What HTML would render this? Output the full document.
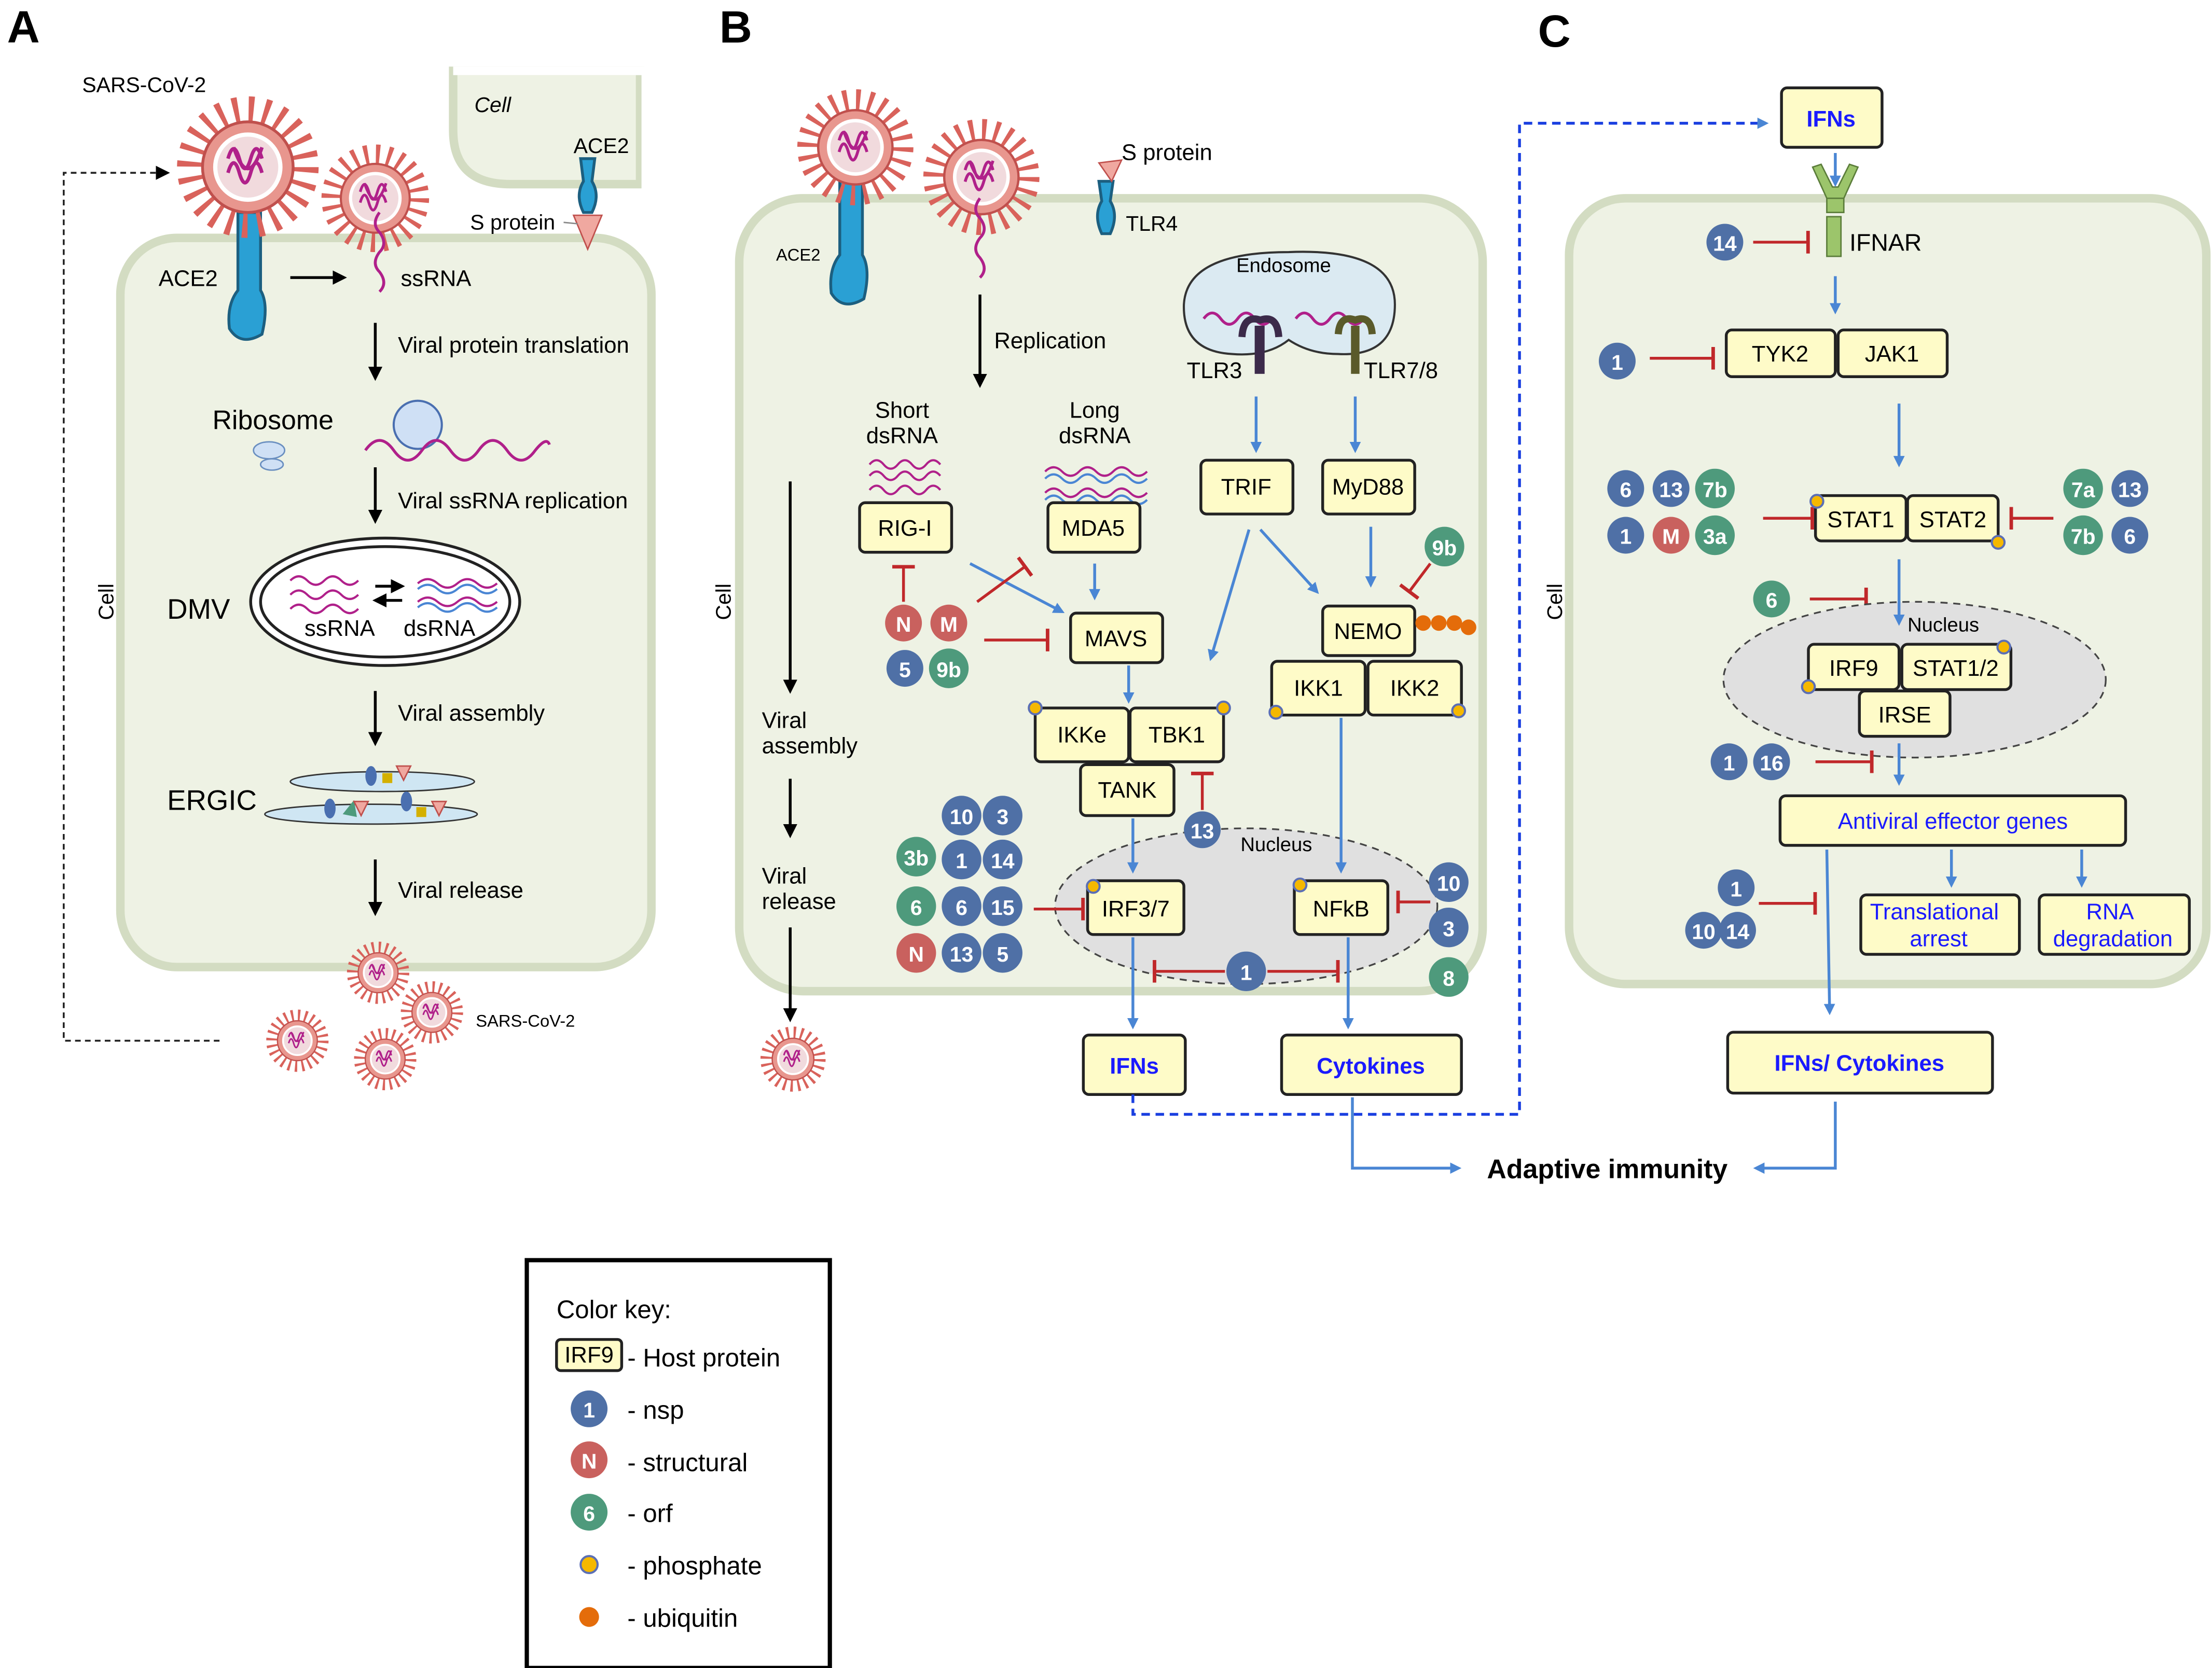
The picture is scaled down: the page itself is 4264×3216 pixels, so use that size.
<!DOCTYPE html>
<html><head><meta charset="utf-8"><style>html,body{margin:0;padding:0;background:#fff}svg{display:block}</style></head><body>
<svg xmlns="http://www.w3.org/2000/svg" width="4264" height="3216" viewBox="0 0 1562 1178" font-family="Liberation Sans, sans-serif">
<defs>
<symbol id="virus" viewBox="-50 -50 100 100" overflow="visible">
<circle r="40" fill="none" stroke="#d9625b" stroke-width="20" stroke-dasharray="3.5 7"/>
<circle r="32" fill="#e8968e" stroke="#c0504d" stroke-width="2"/>
<circle r="23" fill="#f1dadd" stroke="#fff" stroke-width="3"/>
<path d="M-14,-6 q4,-14 8,0 q4,14 8,0 q4,-14 8,0 M-14,4 q4,-14 8,0 q4,14 8,0 q4,-14 8,0 M-10,-14 q10,30 20,0" fill="none" stroke="#b0208a" stroke-width="2.5"/>
</symbol>
<marker id="ab" markerWidth="8" markerHeight="8" refX="6" refY="4" orient="auto" markerUnits="userSpaceOnUse"><path d="M0,0 L8,4 L0,8z" fill="#4a86d4"/></marker>
<marker id="ak" markerWidth="10" markerHeight="10" refX="8" refY="5" orient="auto" markerUnits="userSpaceOnUse"><path d="M0,0 L10,5 L0,10z" fill="#000"/></marker>
<marker id="tb" markerWidth="4" markerHeight="16" refX="2" refY="8" orient="auto" markerUnits="userSpaceOnUse"><rect x="0.5" y="0" width="2.5" height="16" fill="#c0282a"/></marker>
</defs>
<style>
.cell{fill:#eef2e4;stroke:#d3dcc2;stroke-width:6}
.hp{fill:#fefbc8;stroke:#222;stroke-width:2}
.ht{font-size:16px;text-anchor:middle;dominant-baseline:central}
.t{font-size:16px}
.b{fill:#4f70a6}.r{fill:#c9615e}.g{fill:#4e9a7c}
.ct{fill:#fff;font-weight:bold;font-size:15px;text-anchor:middle;dominant-baseline:central}
.ba{stroke:#4a86d4;stroke-width:2;fill:none;marker-end:url(#ab)}
.ka{stroke:#000;stroke-width:2;fill:none;marker-end:url(#ak)}
.inh{stroke:#c0282a;stroke-width:2;fill:none;marker-end:url(#tb)}
.ph{fill:#f5b800;stroke:#5b6fb5;stroke-width:1.5}
.ace{fill:#2aa0d4;stroke:#1c5f80;stroke-width:2}
</style>

<!-- Panel A -->
<text x="5" y="30" font-size="32" font-weight="bold">A</text>
<path d="M320,50 L320,92 Q320,130 360,130 L452,130 L452,50z" class="cell"/>
<rect x="320" y="47" width="140" height="6" fill="#fff"/>
<rect x="453" y="47" width="10" height="90" fill="#fff"/>
<text x="335" y="79" font-size="15" font-style="italic">Cell</text>
<rect x="85" y="168" width="375" height="515" rx="40" class="cell"/>
<text transform="translate(80,425) rotate(-90)" font-size="15" text-anchor="middle">Cell</text>
<text x="58" y="65" font-size="15">SARS-CoV-2</text>
<path d="M168,150 L168,205 Q160,215 162,232 Q170,245 185,236 Q190,215 184,205 L184,150z" class="ace"/>
<use href="#virus" x="125" y="68" width="100" height="100"/>
<use href="#virus" x="227" y="102" width="76" height="76"/>
<path d="M268,150 q-6,8 0,14 q6,8 0,14 q-6,8 0,14 q6,8 0,14" fill="none" stroke="#b0208a" stroke-width="2"/>
<path d="M410,112 L420,112 L418,128 Q424,138 418,150 L412,150 Q406,138 412,128z" class="ace"/>
<path d="M405,152 L425,152 L415,176z" fill="#f0a8a0" stroke="#c0504d"/>
<text x="332" y="162" font-size="15">S protein</text>
<line x1="398" y1="157" x2="408" y2="158" stroke="#888"/>
<text x="405" y="108" font-size="15">ACE2</text>
<text x="112" y="202" font-size="16">ACE2</text>
<line x1="205" y1="196" x2="243" y2="196" class="ka"/>
<text x="283" y="202" class="t">ssRNA</text>
<line x1="265" y1="228" x2="265" y2="267" class="ka"/>
<text x="281" y="249" class="t">Viral protein translation</text>
<text x="150" y="303" font-size="19">Ribosome</text>
<ellipse cx="190" cy="318" rx="11" ry="6" fill="#cfe0f5" stroke="#6a8fc0"/>
<ellipse cx="192" cy="328" rx="8" ry="4" fill="#cfe0f5" stroke="#6a8fc0"/>
<circle cx="295" cy="300" r="17" fill="#cfe0f5" stroke="#4a6fb0" stroke-width="1.5"/>
<path d="M258,318 q10,-14 20,0 q10,14 20,0 q10,-14 20,0 q10,14 20,0 q10,-14 20,0 q10,14 20,0 q8,-10 10,-4" fill="none" stroke="#b0208a" stroke-width="2"/>
<line x1="265" y1="330" x2="265" y2="368" class="ka"/>
<text x="281" y="359" class="t">Viral ssRNA replication</text>
<text x="118" y="437" font-size="20">DMV</text>
<ellipse cx="272" cy="425" rx="95" ry="45" fill="#fff" stroke="#222" stroke-width="2"/>
<ellipse cx="272" cy="425" rx="88" ry="39" fill="none" stroke="#222" stroke-width="2"/>
<path d="M205,410 q6,-6 12,0 q6,6 12,0 q6,-6 12,0 q6,6 12,0 M205,420 q6,-6 12,0 q6,6 12,0 q6,-6 12,0 q6,6 12,0 M205,430 q6,-6 12,0 q6,6 12,0 q6,-6 12,0 q6,6 12,0" fill="none" stroke="#b0208a" stroke-width="1.5"/>
<path d="M295,412 q7,-6 14,0 q7,6 14,0 q7,-6 14,0 q7,6 14,0 M295,425 q7,-6 14,0 q7,6 14,0 q7,-6 14,0 q7,6 14,0" fill="none" stroke="#b0208a" stroke-width="1.5"/>
<path d="M295,416 q7,-6 14,0 q7,6 14,0 q7,-6 14,0 q7,6 14,0 M295,429 q7,-6 14,0 q7,6 14,0 q7,-6 14,0 q7,6 14,0" fill="none" stroke="#4a86d4" stroke-width="1.5"/>
<line x1="265" y1="414" x2="284" y2="414" class="ka"/>
<line x1="284" y1="424" x2="265" y2="424" class="ka"/>
<text x="215" y="449" class="t">ssRNA</text><text x="285" y="449" class="t">dsRNA</text>
<line x1="265" y1="488" x2="265" y2="525" class="ka"/>
<text x="281" y="509" class="t">Viral assembly</text>
<text x="118" y="572" font-size="20">ERGIC</text>
<ellipse cx="270" cy="552" rx="65" ry="7" fill="#cfe6f3" stroke="#333"/>
<ellipse cx="262" cy="575" rx="75" ry="7" fill="#cfe6f3" stroke="#333"/>
<ellipse cx="262" cy="548" rx="4" ry="7" fill="#4a6fb0"/><rect x="270" y="546" width="7" height="7" fill="#d4b000"/><path d="M280,541 l10,0 l-5,10z" fill="#f0a8a0" stroke="#c0504d"/>
<ellipse cx="233" cy="571" rx="4" ry="7" fill="#4a6fb0"/><path d="M242,575 l8,-10 l2,12z" fill="#4e9a7c"/><path d="M250,566 l10,0 l-5,10z" fill="#f0a8a0" stroke="#c0504d"/>
<ellipse cx="287" cy="566" rx="4" ry="7" fill="#4a6fb0"/><rect x="294" y="570" width="7" height="7" fill="#d4b000"/><path d="M305,566 l10,0 l-5,10z" fill="#f0a8a0" stroke="#c0504d"/>
<line x1="265" y1="607" x2="265" y2="645" class="ka"/>
<text x="281" y="634" class="t">Viral release</text>
<use href="#virus" x="245" y="665" width="44" height="44"/>
<use href="#virus" x="283" y="693" width="44" height="44"/>
<use href="#virus" x="188" y="713" width="44" height="44"/>
<use href="#virus" x="250" y="726" width="44" height="44"/>
<text x="336" y="725" font-size="12">SARS-CoV-2</text>
<path d="M155,735 L45,735 L45,122 L118,122" fill="none" stroke="#222" stroke-width="1.3" stroke-dasharray="4 3" marker-end="url(#ak)"/>

<!-- Panel B -->
<text x="508" y="30" font-size="32" font-weight="bold">B</text>
<rect x="522" y="140" width="525" height="560" rx="45" class="cell"/>
<text transform="translate(516,425) rotate(-90)" font-size="15" text-anchor="middle">Cell</text>
<path d="M593,125 L593,180 Q585,190 587,207 Q595,220 610,211 Q615,190 609,180 L609,125z" class="ace"/>
<use href="#virus" x="563" y="63" width="82" height="82"/>
<use href="#virus" x="652" y="84" width="82" height="82"/>
<path d="M692,140 q-6,8 0,14 q6,8 0,14 q-6,8 0,14 q6,8 0,14" fill="none" stroke="#b0208a" stroke-width="2"/>
<text x="548" y="184" font-size="12">ACE2</text>
<path d="M776,128 L786,128 L784,142 Q790,152 784,165 L778,165 Q772,152 778,142z" class="ace"/>
<path d="M776,115 L792,113 L785,128z" fill="#f0a8a0" stroke="#c0504d"/>
<text x="792" y="113" class="t">S protein</text>
<text x="795" y="163" font-size="15">TLR4</text>
<line x1="692" y1="208" x2="692" y2="272" class="ka"/>
<text x="702" y="246" class="t">Replication</text>
<path d="M910,178 Q985,175 985,215 Q985,252 945,250 Q925,250 910,240 Q895,252 870,250 Q835,248 836,215 Q838,178 910,178z" fill="#dbeaf2" stroke="#333" stroke-width="1.5"/>
<text x="873" y="192" font-size="14">Endosome</text>
<path d="M850,225 q6,-8 12,0 q6,8 12,0 q6,-8 12,0 q6,8 12,0" fill="none" stroke="#b0208a" stroke-width="2"/>
<path d="M915,225 q6,-8 12,0 q6,8 12,0 q6,-8 12,0 q6,8 12,0" fill="none" stroke="#b0208a" stroke-width="2"/>
<path d="M877,238 Q878,222 890,226 Q902,222 903,238" fill="none" stroke="#3c2a4a" stroke-width="5"/><rect x="886" y="230" width="7" height="34" fill="#3c2a4a"/>
<path d="M945,236 Q946,222 957,226 Q968,222 969,236" fill="none" stroke="#5a5a2a" stroke-width="5"/><rect x="954" y="230" width="6" height="34" fill="#5a5a2a"/>
<text x="838" y="267" class="t">TLR3</text><text x="963" y="267" class="t">TLR7/8</text>
<text x="637" y="295" class="t" text-anchor="middle">Short</text><text x="637" y="313" class="t" text-anchor="middle">dsRNA</text>
<text x="773" y="295" class="t" text-anchor="middle">Long</text><text x="773" y="313" class="t" text-anchor="middle">dsRNA</text>
<path d="M614,328 q5,-6 10,0 q5,6 10,0 q5,-6 10,0 q5,6 10,0 q5,-6 10,0 M614,336 q5,-6 10,0 q5,6 10,0 q5,-6 10,0 q5,6 10,0 q5,-6 10,0 M614,346 q5,-6 10,0 q5,6 10,0 q5,-6 10,0 q5,6 10,0 q5,-6 10,0" fill="none" stroke="#b0208a" stroke-width="1.5"/>
<path d="M738,333 q6,-6 12,0 q6,6 12,0 q6,-6 12,0 q6,6 12,0 q6,-6 12,0 q6,6 12,0 M738,348 q6,-6 12,0 q6,6 12,0 q6,-6 12,0 q6,6 12,0 q6,-6 12,0 q6,6 12,0" fill="none" stroke="#b0208a" stroke-width="1.5"/>
<path d="M738,338 q6,-6 12,0 q6,6 12,0 q6,-6 12,0 q6,6 12,0 q6,-6 12,0 q6,6 12,0 M738,353 q6,-6 12,0 q6,6 12,0 q6,-6 12,0 q6,6 12,0 q6,-6 12,0 q6,6 12,0" fill="none" stroke="#4a86d4" stroke-width="1.5"/>
<rect x="607" y="355" width="65" height="35" rx="4" class="hp"/><text x="639" y="373" class="ht">RIG-I</text>
<rect x="740" y="355" width="65" height="35" rx="4" class="hp"/><text x="772" y="373" class="ht">MDA5</text>
<rect x="848" y="325" width="65" height="38" rx="4" class="hp"/><text x="880" y="344" class="ht">TRIF</text>
<rect x="934" y="325" width="65" height="38" rx="4" class="hp"/><text x="966" y="344" class="ht">MyD88</text>
<rect x="756" y="433" width="65" height="35" rx="4" class="hp"/><text x="788" y="451" class="ht">MAVS</text>
<rect x="934" y="428" width="65" height="35" rx="4" class="hp"/><text x="966" y="446" class="ht">NEMO</text>
<rect x="731" y="500" width="66" height="38" rx="4" class="hp"/><text x="764" y="519" class="ht">IKKe</text>
<rect x="798" y="500" width="66" height="38" rx="4" class="hp"/><text x="831" y="519" class="ht">TBK1</text>
<rect x="763" y="540" width="66" height="36" rx="4" class="hp"/><text x="796" y="558" class="ht">TANK</text>
<rect x="898" y="467" width="66" height="38" rx="4" class="hp"/><text x="931" y="486" class="ht">IKK1</text>
<rect x="966" y="467" width="66" height="38" rx="4" class="hp"/><text x="999" y="486" class="ht">IKK2</text>
<ellipse cx="880" cy="640" rx="135" ry="55" fill="#e0e0e0" stroke="#444" stroke-width="1.2" stroke-dasharray="5 4"/>
<text x="876" y="601" font-size="14">Nucleus</text>
<rect x="768" y="622" width="68" height="38" rx="4" class="hp"/><text x="802" y="642" class="ht">IRF3/7</text>
<rect x="914" y="622" width="66" height="38" rx="4" class="hp"/><text x="947" y="642" class="ht">NFkB</text>
<rect x="765" y="731" width="72" height="42" rx="4" class="hp"/><text x="801" y="753" class="ht" font-size="20" font-weight="bold" fill="#1a1aff">IFNs</text>
<rect x="905" y="731" width="127" height="42" rx="4" class="hp"/><text x="968" y="753" class="ht" font-size="20" font-weight="bold" fill="#1a1aff">Cytokines</text>
<!-- arrows B -->
<line x1="685" y1="398" x2="750" y2="432" class="ba"/>
<line x1="773" y1="398" x2="773" y2="422" class="ba"/>
<line x1="887" y1="280" x2="887" y2="318" class="ba"/>
<line x1="957" y1="280" x2="957" y2="318" class="ba"/>
<line x1="882" y1="374" x2="855" y2="465" class="ba"/>
<line x1="890" y1="374" x2="930" y2="418" class="ba"/>
<line x1="968" y1="372" x2="968" y2="413" class="ba"/>
<line x1="797" y1="470" x2="797" y2="495" class="ba"/>
<line x1="800" y1="578" x2="800" y2="615" class="ba"/>
<line x1="947" y1="507" x2="947" y2="615" class="ba"/>
<line x1="800" y1="662" x2="800" y2="725" class="ba"/>
<line x1="952" y1="662" x2="952" y2="725" class="ba"/>
<path d="M955,775 L955,825 L1030,825" class="ba"/>
<path d="M1296,778 L1296,825 L1240,825" class="ba"/>
<path d="M800,773 L800,787 L1073,787 L1073,87 L1247,87" fill="none" stroke="#1a3fe0" stroke-width="2" stroke-dasharray="6 4" marker-end="url(#ab)"/>
<text x="1050" y="832" font-size="19" font-weight="bold">Adaptive immunity</text>
<!-- inhibitors B -->
<line x1="638" y1="425" x2="638" y2="400" class="inh"/>
<line x1="690" y1="425" x2="724" y2="400" class="inh"/>
<line x1="695" y1="452" x2="740" y2="452" class="inh"/>
<line x1="849" y1="572" x2="849" y2="546" class="inh"/>
<line x1="1010" y1="398" x2="995" y2="418" class="inh"/>
<line x1="730" y1="642" x2="765" y2="642" class="inh"/>
<line x1="1010" y1="637" x2="987" y2="637" class="inh"/>
<line x1="865" y1="686" x2="815" y2="686" class="inh"/>
<line x1="895" y1="686" x2="945" y2="686" class="inh"/>
<!-- left viral steps B -->
<line x1="558" y1="340" x2="558" y2="488" class="ka"/>
<text x="538" y="514" class="t">Viral</text><text x="538" y="532" class="t">assembly</text>
<line x1="558" y1="550" x2="558" y2="590" class="ka"/>
<text x="538" y="624" class="t">Viral</text><text x="538" y="642" class="t">release</text>
<line x1="558" y1="655" x2="558" y2="720" class="ka"/>
<use href="#virus" x="537" y="725" width="46" height="46"/>
<!-- circles B -->
<circle cx="638" cy="440" r="13" class="r"/><text x="638" y="441" class="ct">N</text>
<circle cx="670" cy="440" r="13" class="r"/><text x="670" y="441" class="ct">M</text>
<circle cx="639" cy="472" r="13" class="b"/><text x="639" y="473" class="ct">5</text>
<circle cx="670" cy="472" r="14" class="g"/><text x="670" y="473" class="ct">9b</text>
<circle cx="1020" cy="386" r="14" class="g"/><text x="1020" y="387" class="ct">9b</text>
<circle cx="849" cy="586" r="13" class="b"/><text x="849" y="587" class="ct">13</text>
<circle cx="679" cy="576" r="14" class="b"/><text x="679" y="577" class="ct">10</text>
<circle cx="708" cy="576" r="14" class="b"/><text x="708" y="577" class="ct">3</text>
<circle cx="647" cy="605" r="14" class="g"/><text x="647" y="606" class="ct">3b</text>
<circle cx="679" cy="607" r="14" class="b"/><text x="679" y="608" class="ct">1</text>
<circle cx="708" cy="607" r="14" class="b"/><text x="708" y="608" class="ct">14</text>
<circle cx="647" cy="640" r="14" class="g"/><text x="647" y="641" class="ct">6</text>
<circle cx="679" cy="640" r="14" class="b"/><text x="679" y="641" class="ct">6</text>
<circle cx="708" cy="640" r="14" class="b"/><text x="708" y="641" class="ct">15</text>
<circle cx="647" cy="673" r="14" class="r"/><text x="647" y="674" class="ct">N</text>
<circle cx="679" cy="673" r="14" class="b"/><text x="679" y="674" class="ct">13</text>
<circle cx="708" cy="673" r="14" class="b"/><text x="708" y="674" class="ct">5</text>
<circle cx="1023" cy="623" r="14" class="b"/><text x="1023" y="624" class="ct">10</text>
<circle cx="1023" cy="655" r="14" class="b"/><text x="1023" y="656" class="ct">3</text>
<circle cx="1023" cy="690" r="14" class="g"/><text x="1023" y="691" class="ct">8</text>
<circle cx="880" cy="686" r="14" class="b"/><text x="880" y="687" class="ct">1</text>
<circle cx="1005" cy="440" r="5.5" fill="#e46c0a"/><circle cx="1016" cy="440" r="5.5" fill="#e46c0a"/><circle cx="1027" cy="440" r="5.5" fill="#e46c0a"/><circle cx="1037" cy="443" r="5.5" fill="#e46c0a"/>
<circle cx="731" cy="500" r="4.5" class="ph"/><circle cx="864" cy="500" r="4.5" class="ph"/><circle cx="901" cy="503" r="4.5" class="ph"/><circle cx="1030" cy="502" r="4.5" class="ph"/><circle cx="772" cy="626" r="4.5" class="ph"/><circle cx="918" cy="625" r="4.5" class="ph"/>

<!-- Panel C -->
<text x="1086" y="33" font-size="32" font-weight="bold">C</text>
<rect x="1108" y="140" width="450" height="555" rx="40" class="cell"/>
<text transform="translate(1103,425) rotate(-90)" font-size="15" text-anchor="middle">Cell</text>
<rect x="1258" y="62" width="71" height="42" rx="4" class="hp"/><text x="1293" y="84" class="ht" font-size="20" font-weight="bold" fill="#1a1aff">IFNs</text>
<path d="M1280,118 L1290,140 L1302,140 L1312,118 L1306,116 L1298,132 L1294,132 L1286,116z" fill="#9cc56b" stroke="#5b7d3a"/>
<rect x="1290" y="140" width="12" height="10" fill="#9cc56b" stroke="#5b7d3a"/>
<rect x="1290" y="153" width="10" height="28" fill="#9cc56b" stroke="#5b7d3a"/>
<line x1="1296" y1="108" x2="1296" y2="130" class="ba"/>
<text x="1306" y="177" font-size="17">IFNAR</text>
<circle cx="1218" cy="171" r="13" class="b"/><text x="1218" y="172" class="ct">14</text>
<line x1="1238" y1="171" x2="1277" y2="171" class="inh"/>
<line x1="1296" y1="195" x2="1296" y2="220" class="ba"/>
<rect x="1219" y="233" width="77" height="33" rx="4" class="hp"/><text x="1257" y="250" class="ht">TYK2</text>
<rect x="1298" y="233" width="77" height="33" rx="4" class="hp"/><text x="1336" y="250" class="ht">JAK1</text>
<circle cx="1142" cy="255" r="13" class="b"/><text x="1142" y="256" class="ct">1</text>
<line x1="1165" y1="253" x2="1210" y2="253" class="inh"/>
<line x1="1341" y1="285" x2="1341" y2="328" class="ba"/>
<rect x="1282" y="350" width="64" height="32" rx="4" class="hp"/><text x="1314" y="367" class="ht">STAT1</text>
<rect x="1347" y="350" width="64" height="32" rx="4" class="hp"/><text x="1379" y="367" class="ht">STAT2</text>
<circle cx="1148" cy="345" r="13" class="b"/><text x="1148" y="346" class="ct">6</text>
<circle cx="1180" cy="345" r="13" class="b"/><text x="1180" y="346" class="ct">13</text>
<circle cx="1211" cy="345" r="14" class="g"/><text x="1211" y="346" class="ct">7b</text>
<circle cx="1148" cy="378" r="13" class="b"/><text x="1148" y="379" class="ct">1</text>
<circle cx="1180" cy="378" r="13" class="r"/><text x="1180" y="379" class="ct">M</text>
<circle cx="1211" cy="378" r="14" class="g"/><text x="1211" y="379" class="ct">3a</text>
<line x1="1245" y1="366" x2="1280" y2="366" class="inh"/>
<circle cx="1471" cy="345" r="14" class="g"/><text x="1471" y="346" class="ct">7a</text>
<circle cx="1504" cy="345" r="13" class="b"/><text x="1504" y="346" class="ct">13</text>
<circle cx="1471" cy="378" r="14" class="g"/><text x="1471" y="379" class="ct">7b</text>
<circle cx="1504" cy="378" r="13" class="b"/><text x="1504" y="379" class="ct">6</text>
<line x1="1450" y1="366" x2="1420" y2="366" class="inh"/>
<circle cx="1251" cy="423" r="13" class="g"/><text x="1251" y="424" class="ct">6</text>
<line x1="1278" y1="423" x2="1318" y2="423" class="inh"/>
<ellipse cx="1352" cy="480" rx="135" ry="55" fill="#e0e0e0" stroke="#444" stroke-width="1.2" stroke-dasharray="5 4"/>
<line x1="1341" y1="395" x2="1341" y2="440" class="ba"/>
<text x="1347" y="446" font-size="14">Nucleus</text>
<rect x="1277" y="455" width="64" height="32" rx="4" class="hp"/><text x="1309" y="472" class="ht">IRF9</text>
<rect x="1343" y="455" width="77" height="32" rx="4" class="hp"/><text x="1381" y="472" class="ht">STAT1/2</text>
<rect x="1313" y="488" width="64" height="32" rx="4" class="hp"/><text x="1345" y="505" class="ht">IRSE</text>
<circle cx="1283" cy="354" r="4.5" class="ph"/><circle cx="1411" cy="383" r="4.5" class="ph"/><circle cx="1277" cy="485" r="4.5" class="ph"/><circle cx="1415" cy="457" r="4.5" class="ph"/>
<circle cx="1221" cy="538" r="13" class="b"/><text x="1221" y="539" class="ct">1</text>
<circle cx="1251" cy="538" r="13" class="b"/><text x="1251" y="539" class="ct">16</text>
<line x1="1282" y1="538" x2="1322" y2="538" class="inh"/>
<line x1="1341" y1="525" x2="1341" y2="553" class="ba"/>
<rect x="1257" y="562" width="244" height="35" rx="4" class="hp"/><text x="1379" y="580" class="ht" font-size="19" fill="#1a1aff">Antiviral effector genes</text>
<line x1="1378" y1="600" x2="1378" y2="625" class="ba"/>
<line x1="1470" y1="600" x2="1470" y2="625" class="ba"/>
<rect x="1314" y="632" width="112" height="42" rx="4" class="hp"/><text x="1366" y="644" class="ht" font-size="15" fill="#1a1aff">Translational</text><text x="1369" y="663" class="ht" font-size="15" fill="#1a1aff">arrest</text>
<rect x="1440" y="632" width="106" height="42" rx="4" class="hp"/><text x="1490" y="644" class="ht" font-size="15" fill="#1a1aff">RNA</text><text x="1492" y="663" class="ht" font-size="15" fill="#1a1aff">degradation</text>
<circle cx="1226" cy="627" r="13" class="b"/><text x="1226" y="628" class="ct">1</text>
<circle cx="1203" cy="657" r="13" class="b"/><text x="1203" y="658" class="ct">10</text>
<circle cx="1227" cy="657" r="13" class="b"/><text x="1227" y="658" class="ct">14</text>
<line x1="1242" y1="638" x2="1282" y2="638" class="inh"/>
<line x1="1290" y1="600" x2="1292" y2="715" class="ba"/>
<rect x="1220" y="729" width="187" height="43" rx="4" class="hp"/><text x="1313" y="751" class="ht" font-size="19" font-weight="bold" fill="#1a1aff">IFNs/ Cytokines</text>

<!-- Legend -->
<rect x="372" y="890" width="214" height="288" fill="#fff" stroke="#000" stroke-width="3"/>
<text x="393" y="931" font-size="18">Color key:</text>
<rect x="393" y="946" width="46" height="22" rx="3" class="hp" stroke-width="1.5"/><text x="416" y="957" class="ht" font-size="15">IRF9</text>
<text x="443" y="965" font-size="18">- Host protein</text>
<circle cx="416" cy="995" r="13" class="b"/><text x="416" y="996" class="ct">1</text><text x="443" y="1002" font-size="18">- nsp</text>
<circle cx="416" cy="1031" r="13" class="r"/><text x="416" y="1032" class="ct">N</text><text x="443" y="1039" font-size="18">- structural</text>
<circle cx="416" cy="1068" r="13" class="g"/><text x="416" y="1069" class="ct">6</text><text x="443" y="1075" font-size="18">- orf</text>
<circle cx="416" cy="1105" r="6" class="ph"/><text x="443" y="1112" font-size="18">- phosphate</text>
<circle cx="416" cy="1142" r="7" fill="#e46c0a"/><text x="443" y="1149" font-size="18">- ubiquitin</text>
</svg>
</body></html>
